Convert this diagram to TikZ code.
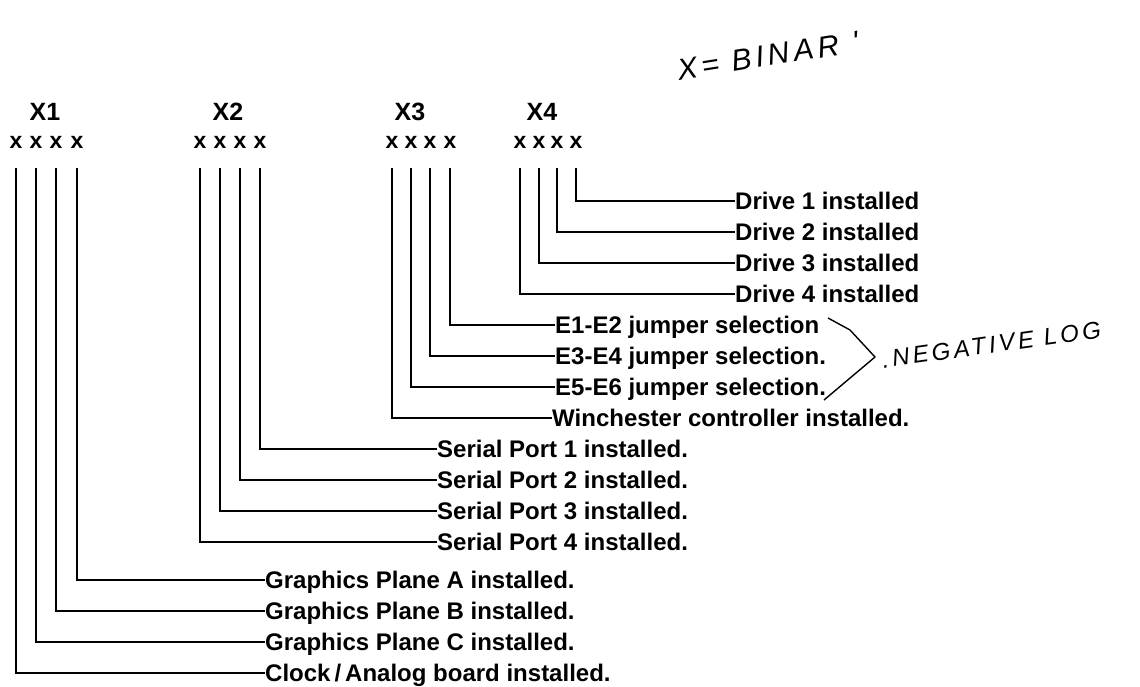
\documentclass[tikz,border=0pt]{standalone}
\usepackage{fontspec}
\setmainfont{Liberation Sans}
\newfontfamily\handfont[LetterSpace=14]{Liberation Sans}
\begin{document}
\begin{tikzpicture}[x=1pt,y=-1pt,
  lab/.style={font=\bfseries\fontsize{24}{28}\selectfont, inner sep=0pt, anchor=west, text height=17pt, text depth=0pt},
  bit/.style={font=\bfseries\fontsize{23}{27}\selectfont, inner sep=0pt},
  grp/.style={font=\bfseries\fontsize{25}{29}\selectfont, inner sep=0pt},
  wire/.style={line width=2.2pt},
  hand/.style={font=\handfont\itshape\fontsize{#1}{#1}\selectfont, inner sep=0pt},
  brace/.style={line width=1.4pt, line join=round}]
\useasboundingbox (0,0) rectangle (1140,687);
% group headers
\node[grp] (g1) at (45,112) {X1};
\node[grp] (g2) at (228,112) {X2};
\node[grp] (g3) at (410,112) {X3};
\node[grp] (g4) at (542,112) {X4};
% bits
\node[bit] (a1) at (16,142) {x};
\node[bit] (a2) at (36,142) {x};
\node[bit] (a3) at (56,142) {x};
\node[bit] (a4) at (77,142) {x};
\node[bit] (b1) at (200,142) {x};
\node[bit] (b2) at (220,142) {x};
\node[bit] (b3) at (240,142) {x};
\node[bit] (b4) at (260,142) {x};
\node[bit] (c1) at (392,142) {x};
\node[bit] (c2) at (411,142) {x};
\node[bit] (c3) at (430,142) {x};
\node[bit] (c4) at (450,142) {x};
\node[bit] (d1) at (520,142) {x};
\node[bit] (d2) at (539,142) {x};
\node[bit] (d3) at (557,142) {x};
\node[bit] (d4) at (576,142) {x};
% labels
\node[lab] (dr1) at (735,201) {Drive 1 installed};
\node[lab] (dr2) at (735,232) {Drive 2 installed};
\node[lab] (dr3) at (735,263) {Drive 3 installed};
\node[lab] (dr4) at (735,294) {Drive 4 installed};
\node[lab] (e12) at (555,325) {E1-E2 jumper selection};
\node[lab] (e34) at (555,356) {E3-E4 jumper selection.};
\node[lab] (e56) at (555,387) {E5-E6 jumper selection.};
\node[lab] (win) at (552,418) {Winchester controller installed.};
\node[lab] (sp1) at (437,449) {Serial Port 1 installed.};
\node[lab] (sp2) at (437,480) {Serial Port 2 installed.};
\node[lab] (sp3) at (437,511) {Serial Port 3 installed.};
\node[lab] (sp4) at (437,542) {Serial Port 4 installed.};
\node[lab] (gpa) at (265,580) {Graphics Plane A installed.};
\node[lab] (gpb) at (265,611) {Graphics Plane B installed.};
\node[lab] (gpc) at (265,642) {Graphics Plane C installed.};
\node[lab] (clk) at (265,673) {Clock\,/\,Analog board installed.};
% wires
\draw[wire] ([yshift=-26pt]d4.center) |- (dr1.west);
\draw[wire] ([yshift=-26pt]d3.center) |- (dr2.west);
\draw[wire] ([yshift=-26pt]d2.center) |- (dr3.west);
\draw[wire] ([yshift=-26pt]d1.center) |- (dr4.west);
\draw[wire] ([yshift=-26pt]c4.center) |- (e12.west);
\draw[wire] ([yshift=-26pt]c3.center) |- (e34.west);
\draw[wire] ([yshift=-26pt]c2.center) |- (e56.west);
\draw[wire] ([yshift=-26pt]c1.center) |- (win.west);
\draw[wire] ([yshift=-26pt]b4.center) |- (sp1.west);
\draw[wire] ([yshift=-26pt]b3.center) |- (sp2.west);
\draw[wire] ([yshift=-26pt]b2.center) |- (sp3.west);
\draw[wire] ([yshift=-26pt]b1.center) |- (sp4.west);
\draw[wire] ([yshift=-26pt]a4.center) |- (gpa.west);
\draw[wire] ([yshift=-26pt]a3.center) |- (gpb.west);
\draw[wire] ([yshift=-26pt]a2.center) |- (gpc.west);
\draw[wire] ([yshift=-26pt]a1.center) |- (clk.west);
% handwritten notes
\node[hand=30, rotate=9, anchor=west] (bin) at (678,70) {X= BINAR\hspace{14pt}'};
\node[hand=24, rotate=8, anchor=west] (neg) at (882,360) {.NEGATIVE LOG};
\coordinate (br1) at (828,318);
\coordinate (br2) at (850,330);
\coordinate (br3) at (875,357);
\coordinate (br4) at (824,400);
\draw[brace] (br1) -- (br2) -- (br3) -- (br4);
\end{tikzpicture}
\end{document}
